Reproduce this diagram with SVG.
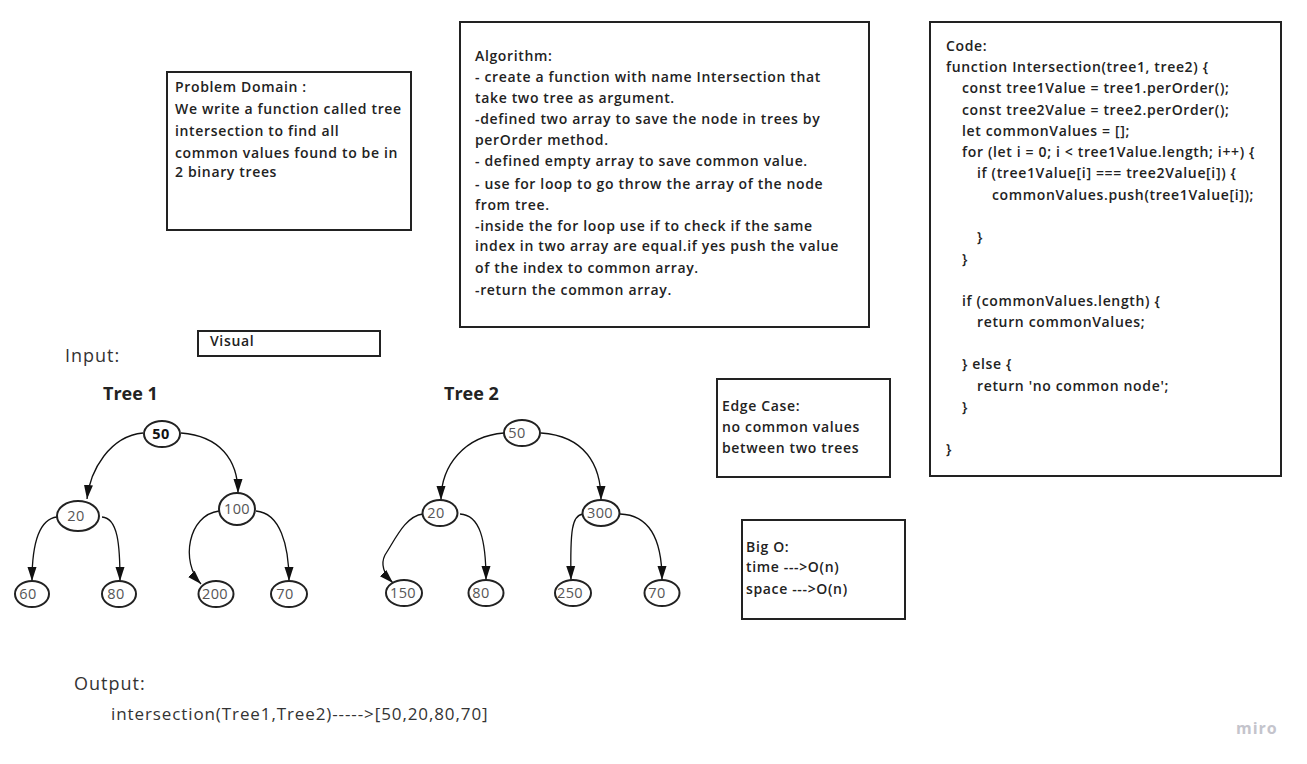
<svg xmlns="http://www.w3.org/2000/svg" width="1307" height="764" viewBox="0 0 1307 764">
<style>
.box{fill:#fff;stroke:#222;stroke-width:2}
.bt{font-family:"Open Sans","Noto Sans",sans-serif;font-size:14px;font-weight:600;fill:#222;letter-spacing:0.65px}
.nd{fill:#fff;stroke:#222;stroke-width:2}
.nt{font-family:"Open Sans","Noto Sans",sans-serif;font-size:14.5px;fill:#555;text-anchor:middle;letter-spacing:0.4px}
.lbl{font-family:"Open Sans","Noto Sans",sans-serif;font-size:18px;fill:#333;letter-spacing:1px}
.ttl{font-family:"Open Sans","Noto Sans",sans-serif;font-size:18px;font-weight:700;fill:#222}
.ed{fill:none;stroke:#111;stroke-width:1.3;marker-end:url(#ah)}
</style>
<defs>
<marker id="ah" markerUnits="userSpaceOnUse" markerWidth="14" markerHeight="16" viewBox="0 0 14 16" refX="14" refY="8" orient="auto">
<path d="M0,3.5 L14,8 L0,12.5 Z" fill="#111"/>
</marker>
</defs>
<rect width="1307" height="764" fill="#fff"/>

<g id="problem-domain">
<rect class="box" x="167" y="72" width="244" height="158"/>
<text class="bt" x="175" y="92">Problem Domain :</text>
<text class="bt" x="175" y="114">We write a function called tree</text>
<text class="bt" x="175" y="136">intersection to find all</text>
<text class="bt" x="175" y="158">common values found to be in</text>
<text class="bt" x="175" y="177">2 binary trees</text>
</g>

<g id="algorithm">
<rect class="box" x="460" y="22" width="409" height="305"/>
<text class="bt" x="475" y="61">Algorithm:</text>
<text class="bt" x="475" y="82">- create a function with name Intersection that</text>
<text class="bt" x="475" y="103">take two tree as argument.</text>
<text class="bt" x="475" y="124">-defined two array to save the node in trees by</text>
<text class="bt" x="475" y="145">perOrder method.</text>
<text class="bt" x="475" y="166">- defined empty array to save common value.</text>
<text class="bt" x="475" y="189">- use for loop to go throw the array of the node</text>
<text class="bt" x="475" y="210">from tree.</text>
<text class="bt" x="475" y="231">-inside the for loop use if to check if the same</text>
<text class="bt" x="475" y="251">index in two array are equal.if yes push the value</text>
<text class="bt" x="475" y="273">of the index to common array.</text>
<text class="bt" x="475" y="295">-return the common array.</text>
</g>

<g id="code">
<rect class="box" x="930" y="22" width="351" height="454"/>
<text class="bt" x="946" y="51">Code:</text>
<text class="bt" x="946" y="72">function Intersection(tree1, tree2) {</text>
<text class="bt" x="962" y="93">const tree1Value = tree1.perOrder();</text>
<text class="bt" x="962" y="115">const tree2Value = tree2.perOrder();</text>
<text class="bt" x="962" y="136">let commonValues = [];</text>
<text class="bt" x="962" y="157">for (let i = 0; i &lt; tree1Value.length; i++) {</text>
<text class="bt" x="977" y="178">if (tree1Value[i] === tree2Value[i]) {</text>
<text class="bt" x="992" y="200">commonValues.push(tree1Value[i]);</text>
<text class="bt" x="977" y="242">}</text>
<text class="bt" x="962" y="264">}</text>
<text class="bt" x="962" y="306">if (commonValues.length) {</text>
<text class="bt" x="977" y="327">return commonValues;</text>
<text class="bt" x="962" y="369">} else {</text>
<text class="bt" x="977" y="391">return 'no common node';</text>
<text class="bt" x="962" y="412">}</text>
<text class="bt" x="946" y="454">}</text>
</g>

<g id="edge-case">
<rect class="box" x="717" y="379" width="173" height="98"/>
<text class="bt" x="722" y="411">Edge Case:</text>
<text class="bt" x="722" y="432">no common values</text>
<text class="bt" x="722" y="453">between two trees</text>
</g>

<g id="big-o">
<rect class="box" x="742" y="520" width="163" height="99"/>
<text class="bt" x="746" y="552">Big O:</text>
<text class="bt" x="746" y="572">time ---&gt;O(n)</text>
<text class="bt" x="746" y="594">space ---&gt;O(n)</text>
</g>

<g id="visual">
<rect class="box" x="198" y="331" width="182" height="25"/>
<text class="bt" x="210" y="346">Visual</text>
</g>

<g id="labels">
<text class="lbl" x="65" y="362">Input:</text>
<text class="ttl" x="103" y="400">Tree 1</text>
<text class="ttl" x="444" y="400">Tree 2</text>
<text class="lbl" x="74" y="690">Output:</text>
<text class="lbl" x="111" y="720" style="font-size:17px;letter-spacing:0.9px">intersection(Tree1,Tree2)-----&gt;[50,20,80,70]</text>
<text x="1236" y="734" style="font-family:'Open Sans',sans-serif;font-size:16px;font-weight:700;fill:#c4c4cc;letter-spacing:1px">miro</text>
</g>

<g id="connectors">
<path class="ed" d="M143,433 C110,436 90,470 87,499"/>
<path class="ed" d="M181,433 C220,436 238,460 238,493"/>
<path class="ed" d="M57,517 C40,519 32,540 32,581"/>
<path class="ed" d="M102,517 C118,518 120,545 120,581"/>
<path class="ed" d="M219,511 C188,515 180,562 201,584"/>
<path class="ed" d="M256,511 C280,513 289,545 289,581"/>
<path class="ed" d="M504,433 C465,436 441,465 441,500"/>
<path class="ed" d="M541,433 C585,436 601,465 601,500"/>
<path class="ed" d="M423,514 C405,516 395,540 385,555 C380,565 385,575 393,583"/>
<path class="ed" d="M460,514 C480,515 486,540 486,580"/>
<path class="ed" d="M583,514 C572,515 570,530 571,580"/>
<path class="ed" d="M620,514 C650,515 662,540 662,580"/>
</g>

<g id="t1-50"><ellipse class="nd" cx="162" cy="434" rx="18" ry="13"/><text class="nt" x="161" y="439" style="font-weight:700;fill:#111">50</text></g>
<g id="t1-20"><ellipse class="nd" cx="78" cy="516" rx="21" ry="15"/><text class="nt" x="76" y="521">20</text></g>
<g id="t1-100"><ellipse class="nd" cx="237" cy="509" rx="18" ry="16"/><text class="nt" x="237" y="514">100</text></g>
<g id="t1-60"><ellipse class="nd" cx="32" cy="594" rx="17" ry="13"/><text class="nt" x="28" y="599">60</text></g>
<g id="t1-80"><ellipse class="nd" cx="119" cy="594" rx="17" ry="13"/><text class="nt" x="116" y="599">80</text></g>
<g id="t1-200"><ellipse class="nd" cx="216" cy="594" rx="17.5" ry="13"/><text class="nt" x="215" y="599">200</text></g>
<g id="t1-70"><ellipse class="nd" cx="289" cy="594" rx="18" ry="13"/><text class="nt" x="285" y="599">70</text></g>

<g id="t2-50"><ellipse class="nd" cx="522" cy="433" rx="18" ry="13"/><text class="nt" x="517" y="438">50</text></g>
<g id="t2-20"><ellipse class="nd" cx="440" cy="513" rx="17.5" ry="13"/><text class="nt" x="436" y="518">20</text></g>
<g id="t2-300"><ellipse class="nd" cx="601" cy="513" rx="18.5" ry="13"/><text class="nt" x="600" y="518">300</text></g>
<g id="t2-150"><ellipse class="nd" cx="404" cy="593" rx="18" ry="13"/><text class="nt" x="403" y="598">150</text></g>
<g id="t2-80"><ellipse class="nd" cx="486" cy="593" rx="17.5" ry="13"/><text class="nt" x="481" y="598">80</text></g>
<g id="t2-250"><ellipse class="nd" cx="573" cy="593" rx="18" ry="13"/><text class="nt" x="570" y="598">250</text></g>
<g id="t2-70"><ellipse class="nd" cx="662" cy="593" rx="17.5" ry="13"/><text class="nt" x="657" y="598">70</text></g>
</svg>
